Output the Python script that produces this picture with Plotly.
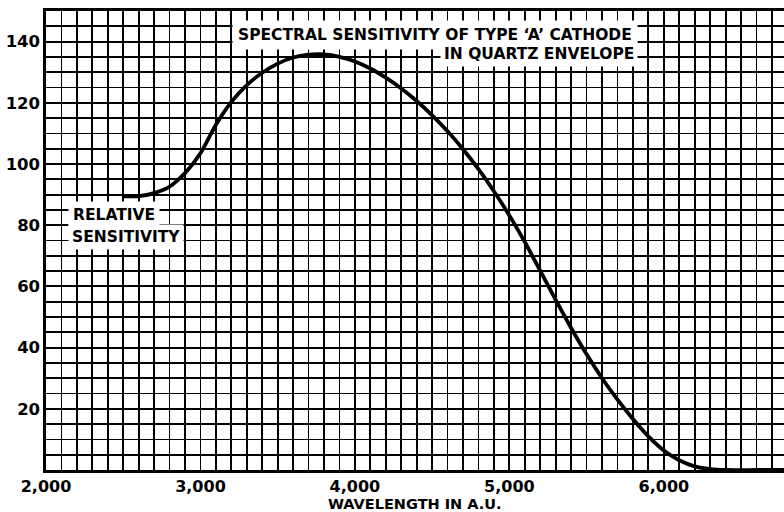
import plotly.graph_objects as go

# ---- data ----
wavelength = [2500, 2600, 2700, 2800, 2900, 3000, 3100, 3200, 3300, 3400,
              3500, 3600, 3700, 3800, 3900, 4000, 4100, 4200, 4300, 4400,
              4500, 4600, 4700, 4800, 4900, 5000, 5100, 5200, 5300, 5400,
              5500, 5600, 5700, 5800, 5900, 6000, 6100, 6200, 6300, 6400,
              6600, 6800]
sensitivity = [89.4, 89.5, 90.5, 92.6, 97.0, 103.5, 112.8, 120.3, 125.8, 129.8,
               132.8, 134.8, 135.7, 135.8, 135.0, 133.5, 131.2, 128.2, 124.7, 120.6,
               115.9, 110.7, 104.8, 98.3, 91.1, 83.2, 74.5, 65.1, 55.6, 46.4,
               37.8, 30.0, 23.0, 16.7, 11.0, 6.4, 3.2, 1.2, 0.3, 0.0,
               0.0, 0.0]

x_tickvals = [2000, 3000, 4000, 5000, 6000]
x_ticktext = ["2,000", "3,000", "4,000", "5,000", "6,000"]
y_tickvals = [20, 40, 60, 80, 100, 120, 140]
y_ticktext = ["20", "40", "60", "80", "100", "120", "140"]

title_lines = ["SPECTRAL SENSITIVITY OF TYPE \u2018A\u2019 CATHODE", "IN QUARTZ ENVELOPE"]
ylabel_lines = ["RELATIVE", "SENSITIVITY"]
x_title = "WAVELENGTH IN A.U."

FONT = "DejaVu Sans"

fig = go.Figure()
fig.add_trace(go.Scatter(
    x=wavelength, y=sensitivity, mode="lines",
    line=dict(color="black", width=3.8, shape="spline", smoothing=0.6),
    hoverinfo="skip", showlegend=False,
))

fig.update_xaxes(
    range=[2000, 6778], tickvals=x_tickvals, ticktext=x_ticktext,
    showline=True, linecolor="black", linewidth=2.6, mirror=True,
    ticks="", zeroline=False, automargin=False,
    tickfont=dict(family=FONT, size=16, color="black", weight="bold"),
    showgrid=True, gridcolor="black", gridwidth=1.8,
    minor=dict(dtick=100, tick0=2000, showgrid=True, gridcolor="black", gridwidth=1.8),
)
fig.update_yaxes(
    range=[0, 150], tickvals=y_tickvals, ticktext=y_ticktext,
    showline=True, linecolor="black", linewidth=2.6, mirror=False,
    ticks="", zeroline=False, automargin=False,
    tickfont=dict(family=FONT, size=16.5, color="black", weight="bold"),
    showgrid=True, gridcolor="black", gridwidth=1.8,
    minor=dict(dtick=5, tick0=0, showgrid=True, gridcolor="black", gridwidth=1.8),
)

ann_font = dict(family=FONT, size=15.5, color="black", weight="bold")
fig.add_annotation(x=5835, y=142.2, text=title_lines[0], showarrow=False,
                   xanchor="right", yanchor="middle", bgcolor="white", borderpad=5,
                   font=ann_font)
fig.add_annotation(x=5835, y=135.9, text=title_lines[1], showarrow=False,
                   xanchor="right", yanchor="middle", bgcolor="white", borderpad=3,
                   font=ann_font)
fig.add_annotation(x=2144, y=83.3, text=ylabel_lines[0], showarrow=False,
                   xanchor="left", yanchor="middle", bgcolor="white", borderpad=4,
                   font=ann_font)
fig.add_annotation(x=2144, y=76.3, text=ylabel_lines[1], showarrow=False,
                   xanchor="left", yanchor="middle", bgcolor="white", borderpad=3,
                   font=ann_font)
# x-axis title, placed below the tick labels
fig.add_annotation(x=0.5, y=-0.0745, xref="paper", yref="paper", text=x_title,
                   showarrow=False, xanchor="center", yanchor="middle",
                   font=dict(family=FONT, size=14.5, color="black", weight="bold"))

fig.update_layout(
    width=784, height=512,
    margin=dict(l=46, r=0, t=11, b=42),
    paper_bgcolor="white", plot_bgcolor="white",
    showlegend=False,
)

fig.write_html("out.html", config={"displayModeBar": False, "staticPlot": True},
               post_script="document.body.style.margin='0';")
